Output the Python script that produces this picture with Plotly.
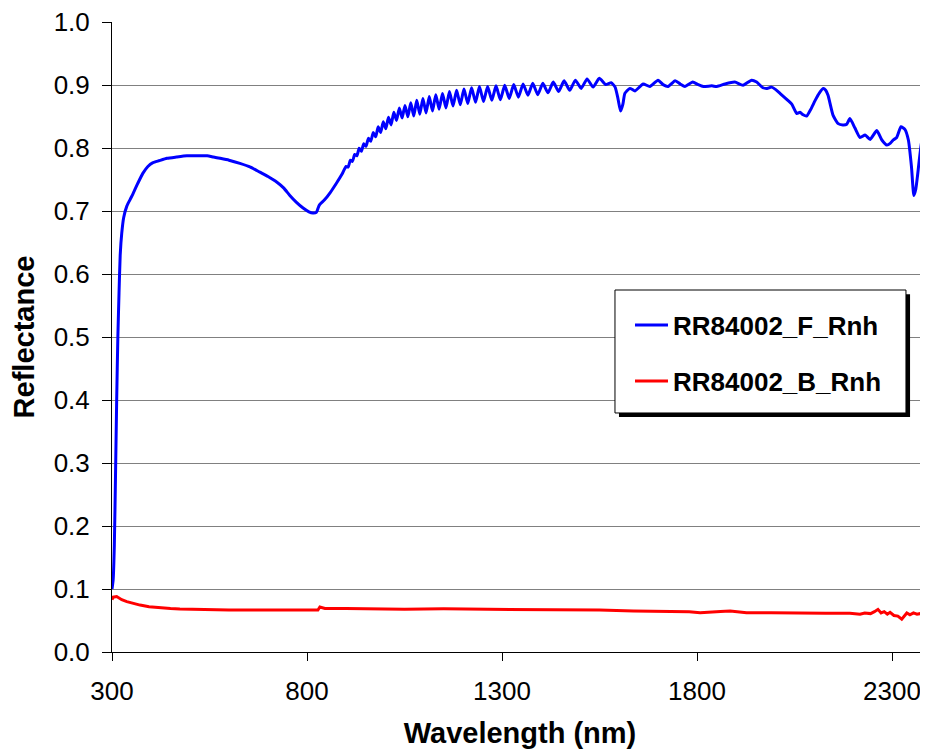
import plotly.graph_objects as go

# ---------------- data ----------------
wl_front = [
    300, 303, 306, 309, 312, 315, 318, 321, 325, 330, 338, 346, 354, 366, 379, 392, 405, 420,
    441, 465, 492, 520, 544, 560, 577, 600, 628, 655, 679, 700, 723, 740, 756, 773, 790, 805,
    815, 824, 828, 832, 845, 860, 875, 890,
    900.2, 905.6, 911.1, 916.6, 922.2, 928.0, 933.7, 939.5, 945.4, 951.4, 957.5, 963.6,
    969.8, 976.1, 982.5, 989.0, 995.5, 1002.2, 1008.9, 1015.7, 1022.6, 1029.6, 1036.7, 1043.9,
    1051.2, 1058.6, 1066.1, 1073.7, 1081.4, 1089.3, 1097.2, 1105.3, 1113.4, 1121.8, 1130.2,
    1138.8, 1147.4, 1156.3, 1165.2, 1174.4, 1183.6, 1193.0, 1202.5, 1212.2, 1222.0, 1232.1,
    1242.2, 1252.6, 1263.1, 1273.9, 1284.7, 1295.8, 1307.0, 1318.5, 1330.1, 1342.1, 1354.1,
    1366.5, 1378.9, 1391.8, 1404.7, 1418.0, 1431.4, 1445.3, 1459.2, 1473.6, 1488.1, 1503.1,
    1518.1, 1533.7, 1549.4, 1566.0, 1580.0,
    1590, 1597, 1604, 1610, 1615, 1628, 1641, 1662, 1679, 1700, 1713, 1726, 1744, 1757, 1769,
    1789, 1803, 1816, 1838, 1851, 1872, 1897, 1918, 1940, 1953, 1969, 1980, 1991, 2002, 2013,
    2033, 2043, 2056, 2064, 2072, 2081, 2092, 2103, 2114, 2124, 2130, 2136, 2149, 2162, 2174,
    2184, 2192, 2205, 2218, 2231, 2244, 2261, 2274, 2287, 2296, 2303, 2312, 2323, 2333, 2342,
    2350, 2356, 2361, 2365, 2376, 2385, 2392, 2400,
]
refl_front = [
    0.100, 0.115, 0.170, 0.280, 0.400, 0.500, 0.570, 0.630, 0.665, 0.690, 0.708, 0.718, 0.728,
    0.744, 0.760, 0.771, 0.777, 0.780, 0.784, 0.786, 0.788, 0.788, 0.788, 0.786, 0.784, 0.781,
    0.776, 0.770, 0.762, 0.755, 0.746, 0.737, 0.725, 0.714, 0.705, 0.699, 0.697, 0.698, 0.704,
    0.710, 0.718, 0.730, 0.744, 0.759,
    0.771, 0.770, 0.781, 0.779, 0.790, 0.788, 0.800, 0.795, 0.807, 0.803, 0.816, 0.811,
    0.825, 0.818, 0.834, 0.825, 0.842, 0.831, 0.849, 0.837, 0.857, 0.844, 0.864, 0.848,
    0.868, 0.850, 0.872, 0.851, 0.876, 0.854, 0.879, 0.856, 0.882, 0.859, 0.885,
    0.862, 0.887, 0.864, 0.890, 0.867, 0.892, 0.869, 0.894, 0.871, 0.896, 0.873,
    0.898, 0.874, 0.898, 0.876, 0.899, 0.877, 0.900, 0.879, 0.901, 0.881, 0.902,
    0.884, 0.903, 0.885, 0.903, 0.888, 0.905, 0.890, 0.907, 0.892, 0.908, 0.895,
    0.910, 0.897, 0.911, 0.901, 0.904,
    0.897, 0.880, 0.859, 0.870, 0.887, 0.895, 0.891, 0.902, 0.898, 0.908, 0.901, 0.898, 0.907,
    0.902, 0.898, 0.905, 0.901, 0.898, 0.899, 0.898, 0.902, 0.905, 0.900, 0.908, 0.905, 0.896,
    0.895, 0.897, 0.893, 0.887, 0.876, 0.870, 0.855, 0.857, 0.853, 0.851, 0.862, 0.876, 0.888,
    0.895, 0.892, 0.884, 0.852, 0.839, 0.837, 0.838, 0.847, 0.832, 0.817, 0.821, 0.814, 0.828,
    0.813, 0.805, 0.808, 0.813, 0.817, 0.834, 0.830, 0.813, 0.770, 0.725, 0.735, 0.754, 0.810,
    0.826, 0.844, 0.856,
]

wl_back = [
    300, 303, 312, 325, 338, 355, 372, 395, 423, 450, 474, 526, 600, 700, 800, 828, 833, 840,
    846, 900, 954, 1050, 1150, 1295, 1400, 1467, 1550, 1637, 1700, 1780, 1808, 1830, 1860,
    1885, 1910, 1927, 1990, 2064, 2130, 2192, 2218, 2230, 2245, 2255, 2264, 2272, 2280, 2288,
    2295, 2305, 2315, 2325, 2332, 2338, 2346, 2355, 2364, 2372, 2380, 2389, 2400,
]
refl_back = [
    0.083, 0.087, 0.088, 0.083, 0.080, 0.077, 0.0745, 0.072, 0.070, 0.069, 0.0683, 0.0672,
    0.0667, 0.0667, 0.0667, 0.0667, 0.0714, 0.070, 0.069, 0.069, 0.0685, 0.068, 0.0685,
    0.0677, 0.068, 0.0677, 0.0665, 0.065, 0.065, 0.064, 0.0624, 0.0628, 0.0645, 0.065, 0.064,
    0.0624, 0.0622, 0.0614, 0.0614, 0.0614, 0.060, 0.062, 0.061, 0.064, 0.0677, 0.062, 0.064,
    0.060, 0.063, 0.058, 0.057, 0.052, 0.058, 0.062, 0.059, 0.062, 0.060, 0.061, 0.058, 0.066,
    0.063,
]

series_names = ["RR84002_F_Rnh", "RR84002_B_Rnh"]
x_ticks = [300, 800, 1300, 1800, 2300]
y_ticks = [0.0, 0.1, 0.2, 0.3, 0.4, 0.5, 0.6, 0.7, 0.8, 0.9, 1.0]
x_title = "Wavelength (nm)"
y_title = "Reflectance"

# ---------------- figure ----------------
FONT = "Liberation Sans, Arial, sans-serif"

fig = go.Figure()
fig.add_trace(go.Scatter(x=wl_front, y=refl_front, mode="lines", name=series_names[0],
                         legendgroup="f",
                         line=dict(color="#0000FF", width=3, shape="spline", smoothing=0.5)))
fig.add_trace(go.Scatter(x=wl_back, y=refl_back, mode="lines", name=series_names[1],
                         legendgroup="b", line=dict(color="#FF0000", width=3)))

# legend frame with drop shadow
fig.add_shape(type="rect", xref="paper", yref="paper", layer="above",
              x0=0.6213, x1=0.978, y0=0.373, y1=0.568,
              fillcolor="black", line=dict(width=0))
fig.add_shape(type="rect", xref="paper", yref="paper", layer="above",
              x0=0.6164, x1=0.973, y0=0.3794, y1=0.5746,
              fillcolor="white", line=dict(color="black", width=1))

# the page body adds an 8px offset, so the figure is 8px smaller and margins shifted
fig.update_layout(
    width=920, height=741,
    margin=dict(l=104, r=0, t=14, b=97, autoexpand=False),
    paper_bgcolor="white", plot_bgcolor="white",
    font=dict(family=FONT, color="black", size=26),
    showlegend=True,
    legend=dict(
        x=0.6348, y=0.556, xanchor="left", yanchor="top",
        bgcolor="rgba(0,0,0,0)", borderwidth=0,
        font=dict(family=FONT, size=26, color="black", weight="bold"),
        itemwidth=33, tracegroupgap=19, traceorder="grouped",
    ),
    xaxis=dict(
        range=[300, 2392.3], tickmode="array", tickvals=x_ticks,
        ticks="outside", ticklen=8, tickcolor="black", tickwidth=1,
        showline=True, linecolor="black", linewidth=1,
        showgrid=False, zeroline=False, automargin=False,
        ticklabeloverflow="allow",
        tickfont=dict(family=FONT, size=26), ticklabelstandoff=8,
        title=dict(text=x_title, font=dict(family=FONT, size=29, weight="bold"), standoff=22),
    ),
    yaxis=dict(
        range=[0, 1.0004], tickmode="array", tickvals=y_ticks, tickformat=".1f",
        ticks="outside", ticklen=9, tickcolor="black", tickwidth=1,
        showline=True, linecolor="black", linewidth=1,
        showgrid=True, gridcolor="#808080", gridwidth=1, zeroline=False, automargin=False,
        ticklabeloverflow="allow",
        tickfont=dict(family=FONT, size=26), ticklabelstandoff=7,
        title=dict(text=y_title, font=dict(family=FONT, size=29, weight="bold"), standoff=17),
    ),
)

fig.write_html("out.html")
